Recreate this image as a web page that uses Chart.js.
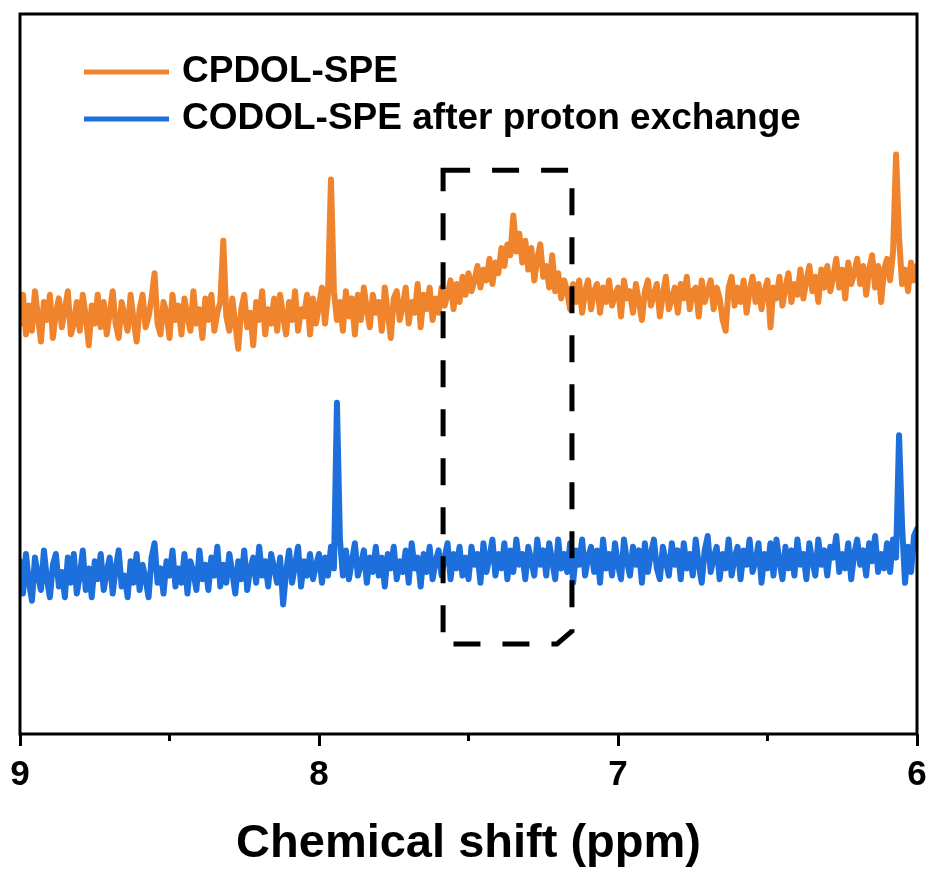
<!DOCTYPE html>
<html>
<head>
<meta charset="utf-8">
<script src="https://cdn.jsdelivr.net/npm/chart.js@4"></script>
<style>
  html, body { margin: 0; padding: 0; background: #fff; }
  #wrap { width: 929px; height: 872px; }
</style>
</head>
<body>
<div id="wrap"><canvas id="nmrChart"></canvas></div>
<script>
// Sampling of the chemical shift axis (ppm), high to low
const shiftStart = 9.0;
const shiftStep = 0.01;
const pointCount = 301;

// Series intensities (arbitrary units)
const cpdolValues = [
  57, 61, 55.5, 59.5, 56, 61.5, 58, 54.5, 60, 57.5,
  61, 55, 58.5, 60.5, 56.5, 59, 61.5, 55.5, 57, 60,
  56, 61, 58, 54, 59.5, 57, 61, 56.5, 60, 55.5,
  58.5, 61.5, 57, 55, 60, 58, 56, 61, 57.5, 54.5,
  59, 61, 56.5, 58, 60.5, 64, 57, 55.5, 60, 58.5,
  55, 61, 57.5, 59.5, 55.5, 60.5, 58, 56, 61.5, 57,
  59, 55, 60.5, 57.5, 61, 56, 58.5, 60, 68.5, 58,
  56, 60.5, 57, 53.5, 59, 61, 56.5, 58.5, 54, 60,
  57.5, 61.5, 55.5, 59, 57, 60.5, 56, 61, 58, 55.5,
  60, 57.5, 61.5, 56, 59, 58, 61, 55.5, 60.5, 57,
  59.5, 62, 57, 61, 77, 61.5, 57.5, 60, 56, 61.5,
  58, 60.5, 55.5, 61, 57.5, 62, 59, 56.5, 61, 58.5,
  60, 56, 62, 58.5, 55, 60.5, 61.5, 57.5, 59.5, 62,
  57, 60, 58.5, 62.5, 56.5, 61, 59, 62, 57.5, 60.5,
  58.5, 62, 59.5, 61, 63, 59, 62.5, 60, 63.5, 61,
  64, 61.5, 63, 65, 62, 64.5, 63, 66, 62.5, 65.5,
  64, 67.5, 65, 68, 66.5, 72, 67, 69.5, 65.5, 68.5,
  64.5, 67.5, 63, 66, 68, 63.5, 65, 62, 66.5, 61.5,
  64, 60.5, 63, 61.5, 59, 62.5, 60, 63, 58.5, 61.5,
  63, 59, 61.5, 62.5, 58.5, 62, 60, 63, 59.5, 61,
  62, 58, 63, 60.5, 61.5, 58.5, 62.5, 60, 57.5, 61.5,
  63, 59.5, 61, 62.5, 58, 61, 63.5, 59, 60.5, 62,
  58.5, 62.5, 60.5, 63.5, 59, 61.5, 62, 58, 63, 60,
  61.5, 63, 59, 62, 60.5, 57.5, 56, 62, 63.5, 59.5,
  62, 60, 63, 58.5, 61.5, 63.5, 60, 62.5, 59, 61.5,
  63, 56.5, 62, 60.5, 63.5, 59.5, 62, 64, 60, 62.5,
  61, 64.5, 60.5, 63, 65, 61.5, 63.5, 60, 64.5, 62,
  65, 61.5, 63.5, 66, 62, 64.5, 60.5, 65.5, 62.5, 64,
  66, 62.5, 65, 61, 64.5, 66.5, 62, 65, 60, 64.5,
  66, 63, 67, 80.5, 69, 62.5, 64.5, 61.5, 65.5, 63,
  65
];

const codolValues = [
  24, 19.5, 25, 21, 18.5, 24.5, 22, 20, 25.5, 21.5,
  19, 23.5, 25, 20.5, 22.5, 19, 24.5, 21, 25, 19.5,
  22, 25.5, 20, 23, 19, 24, 21.5, 25, 20, 22.5,
  24.5, 19.5, 23, 25.5, 20.5, 22, 19, 24, 21, 25,
  20, 23.5, 21.5, 19, 24.5, 26.5, 21, 23, 19.5, 24,
  22, 25.5, 20.5, 23, 21, 25, 19.5, 24, 22.5, 20,
  25.5, 21.5, 23.5, 20, 24.5, 22, 26, 20.5, 23.5, 21,
  25, 22.5, 19.5, 24, 21.5, 25.5, 20, 23, 24.5, 21,
  26, 22, 24, 20.5, 25, 23, 21, 24.5, 18, 22.5,
  25.5, 21, 23.5, 26, 20.5, 24, 22, 25, 21.5, 23.5,
  25, 21, 24.5, 22, 26, 23, 46, 27, 22, 25.5,
  21.5, 24, 26.5, 22, 23.5, 25.5, 21, 24.5, 22.5, 26,
  22, 24.5, 20.5, 25, 23, 26, 21.5, 24, 22.5, 25.5,
  21, 26.5, 23, 24.5, 20.5, 25, 22.5, 26, 21.5, 24,
  25.5, 22, 24.5, 26.5, 21.5, 25, 23, 26, 22, 24.5,
  21.5, 26, 23.5, 25, 21, 26.5, 22.5, 24.5, 27, 22,
  25, 23, 26.5, 21.5, 25.5, 22.5, 27, 23.5, 25, 21.5,
  26, 24, 22, 27, 23.5, 25.5, 22, 26.5, 24, 21.5,
  27, 23, 25, 22.5, 26.5, 21, 25.5, 23.5, 27, 22,
  24.5, 26, 22.5, 25.5, 21, 27, 23, 25, 22, 26.5,
  23.5, 21.5, 27, 24, 22, 26, 23.5, 25.5, 21, 26.5,
  22.5, 25, 27, 23, 21.5, 26, 24, 22, 26.5, 23.5,
  25.5, 21.5, 26.5, 23, 25, 22, 27, 23.5, 21, 25.5,
  27.5, 22.5, 24.5, 26, 21.5, 25, 23, 27, 22, 24.5,
  26, 21.5, 25.5, 23.5, 27, 22.5, 24, 26.5, 21, 25,
  23, 26.5, 22, 27, 24, 21.5, 26, 23, 25.5, 22,
  27, 23.5, 25, 21.5, 26.5, 24, 22, 27, 23.5, 25.5,
  22, 26, 24.5, 27.5, 22.5, 25, 23, 26.5, 21.5, 25,
  27, 23.5, 25.5, 22, 26.5, 24, 27.5, 22.5, 25, 23,
  26.5, 22.5, 27, 24.5, 41.5, 29, 21, 26, 22.5, 27.5,
  28.5
];

const seriesLabels = ['CPDOL-SPE', 'CODOL-SPE after proton exchange'];
const seriesColors = ['#F0842C', '#1D70DC'];

const xTickValues = [9, 8, 7, 6];
const minorTicks = [8.5, 7.5, 6.5];

// dashed highlight box, in data units [ppm, intensity]
const boxOutline = [[7.585, 78.3], [7.154, 78.3], [7.154, 14.3], [7.204, 12.5], [7.585, 12.5]];

const shifts = [];
for (let i = 0; i < pointCount; i++) shifts.push(+(shiftStart - i * shiftStep).toFixed(3));

const toPoints = vals => vals.map((v, i) => ({ x: shifts[i], y: v }));

const FONT = '"Liberation Sans", Arial, sans-serif';

// axis frame + minor ticks
const framePlugin = {
  id: 'frame',
  afterDatasetsDraw(chart) {
    const { ctx, chartArea: a, scales } = chart;
    ctx.save();
    ctx.strokeStyle = '#000';
    ctx.lineWidth = 3;
    ctx.strokeRect(a.left, a.top, a.right - a.left, a.bottom - a.top);
    ctx.beginPath();
    minorTicks.forEach(v => {
      const px = scales.x.getPixelForValue(v);
      ctx.moveTo(px, a.bottom);
      ctx.lineTo(px, a.bottom + 7);
    });
    ctx.stroke();
    ctx.restore();
  }
};

const dashBoxPlugin = {
  id: 'dashBox',
  afterDatasetsDraw(chart) {
    const { ctx, scales: { x, y } } = chart;
    ctx.save();
    ctx.setLineDash([27, 22]);
    ctx.lineWidth = 5;
    ctx.strokeStyle = '#000';
    ctx.beginPath();
    boxOutline.forEach(([px, py], i) => {
      const X = x.getPixelForValue(px), Y = y.getPixelForValue(py);
      if (i === 0) ctx.moveTo(X, Y); else ctx.lineTo(X, Y);
    });
    ctx.closePath();
    ctx.stroke();
    ctx.restore();
  }
};

// legend drawn inside the plot, top-left
const insideLegend = {
  id: 'insideLegend',
  afterDraw(chart, args, opts) {
    const { ctx } = chart;
    ctx.save();
    ctx.font = 'bold 37px ' + FONT;
    ctx.textBaseline = 'middle';
    chart.data.datasets.forEach((ds, i) => {
      const yy = opts.top + i * opts.rowGap;
      ctx.strokeStyle = ds.borderColor;
      ctx.lineWidth = 5;
      ctx.beginPath();
      ctx.moveTo(opts.left, yy);
      ctx.lineTo(opts.left + opts.lineLen, yy);
      ctx.stroke();
      ctx.fillStyle = '#000';
      ctx.fillText(ds.label, opts.left + opts.lineLen + opts.gap, yy);
    });
    ctx.restore();
  }
};

const datasets = [cpdolValues, codolValues].map((vals, i) => ({
  label: seriesLabels[i],
  data: toPoints(vals),
  borderColor: seriesColors[i],
  borderWidth: 6,
  pointRadius: 0,
  tension: 0,
  borderJoinStyle: 'round',
  borderCapStyle: 'round'
}));

new Chart(document.getElementById('nmrChart'), {
  type: 'line',
  data: { datasets },
  options: {
    responsive: true,
    maintainAspectRatio: false,
    animation: false,
    layout: { padding: { left: 20, right: 12, top: 14, bottom: 0 } },
    plugins: {
      legend: { display: false },
      tooltip: { enabled: false },
      insideLegend: { left: 84, top: 72, rowGap: 47, lineLen: 85, gap: 13 }
    },
    scales: {
      x: {
        type: 'linear',
        reverse: true,
        min: 6,
        max: 9,
        border: { display: false },
        grid: { drawOnChartArea: false, drawTicks: true, tickLength: 12, tickWidth: 3, tickColor: '#000' },
        afterBuildTicks: scale => { scale.ticks = xTickValues.map(v => ({ value: v })); },
        afterFit: scale => { scale.paddingLeft = 0; scale.paddingRight = 0; scale.height = 138; },
        ticks: {
          color: '#000',
          padding: 8,
          maxRotation: 0,
          font: { family: FONT, size: 35, weight: 'bold' }
        },
        title: {
          display: true,
          text: 'Chemical shift (ppm)',
          color: '#000',
          padding: { top: 15, bottom: 0 },
          font: { family: FONT, size: 47, weight: 'bold' }
        }
      },
      y: { display: false, min: 0, max: 100 }
    }
  },
  plugins: [framePlugin, dashBoxPlugin, insideLegend]
});
</script>
</body>
</html>
